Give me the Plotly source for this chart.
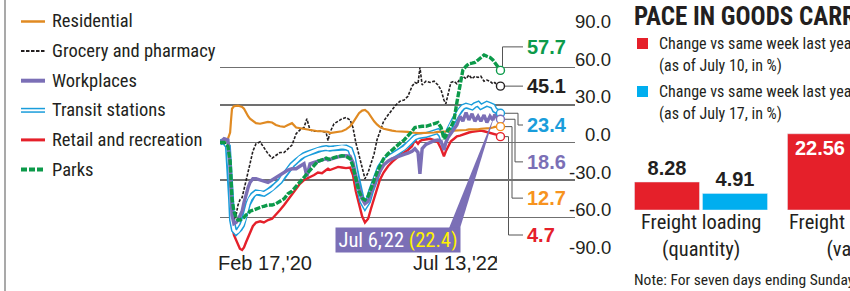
import plotly.graph_objects as go

W, H = 850, 291
def px(x): return x / W
def py(y): return 1 - y / H

# ---------------- DATA ----------------
dates = [
 "2020-02-17","2020-03-01","2020-03-13","2020-03-20","2020-03-23","2020-03-26","2020-04-01","2020-04-08","2020-04-14","2020-04-20",
 "2020-04-27","2020-05-03","2020-05-09","2020-05-16","2020-05-22","2020-05-31","2020-06-10","2020-06-23","2020-07-05","2020-07-18",
 "2020-07-31","2020-08-12","2020-08-25","2020-09-07","2020-09-19","2020-10-02","2020-10-15","2020-10-27","2020-11-09","2020-11-18",
 "2020-11-28","2020-12-11","2020-12-23","2021-01-05","2021-01-18","2021-01-24","2021-01-30","2021-02-12","2021-02-25","2021-03-09",
 "2021-03-22","2021-04-04","2021-04-13","2021-04-22","2021-05-02","2021-05-12","2021-05-21","2021-05-31","2021-06-09","2021-06-19",
 "2021-06-28","2021-07-07","2021-07-19","2021-08-02","2021-08-15","2021-08-27","2021-09-09","2021-09-22","2021-10-04","2021-10-17",
 "2021-10-26","2021-11-05","2021-11-11","2021-11-18","2021-11-30","2021-12-13","2021-12-26","2022-01-07","2022-01-17","2022-01-26",
 "2022-02-01","2022-02-08","2022-02-17","2022-02-27","2022-03-08","2022-03-18","2022-03-27","2022-04-06","2022-04-15","2022-04-25",
 "2022-05-04","2022-05-14","2022-05-23","2022-06-02","2022-06-11","2022-06-21","2022-06-30","2022-07-06","2022-07-16","2022-07-24",
]

residential = [
 0, 1, 3, 8, 18, 27, 29, 29.5, 29.5, 29,
 28.5, 27, 24, 21, 19, 17, 15.5, 15, 15.5, 16.5,
 16, 14, 13, 12.5, 14, 15.5, 12, 11.5, 10.5, 10,
 10, 9.5, 9, 9, 8.5, 8.5, 7.5, 8, 8.5, 9,
 10.5, 13, 16, 20, 23.5, 25.5, 26, 24, 20.5, 17,
 14.5, 12.5, 11, 10, 9.5, 9, 9, 8.5, 8.5, 8,
 7.5, 7.5, 7.5, 7.5, 7.5, 8, 8, 8.5, 8.5, 9,
 9, 9, 9, 9.5, 9.5, 9.5, 10, 10, 10.5, 10.5,
 10, 10.5, 11, 11, 11.5, 11.5, 12, 12.5, 12.5, 12.7,
]
grocery = [
 0, 1, -3, -20, -40, -55, -62, -58, -50, -46,
 -44, -38, -30, -24, -17, -7, -1, 0.5, -4, -9,
 -12.5, -10, -8, -8, -5, -2, 7, 10, 12, 19,
 10, 9, 9, 9, 8, 1.5, 8, 15, 17, 19,
 20, 18, 12, 0, -10, -21, -29, -24, -16, -9,
 2, 9, 17, 22, 26, 30, 33, 34, 37, 45,
 48, 47, 60, 46, 49, 48, 49, 46, 42, 34,
 31, 38, 48, 49, 47, 51, 53, 51, 54, 51,
 53, 52, 53, 49, 50, 49, 47, 48, 45.5, 45.1,
]
workplaces = [
 0, 3, 2, -20, -40, -58, -65, -64, -62, -59,
 -55, -48, -42, -36, -32, -29, -29, -30, -31, -32,
 -30, -28, -26, -24, -22, -21, -21, -19, -17, -27,
 -17, -16, -15, -14, -13, -14, -13.5, -12, -11.5, -11,
 -10.5, -11, -16, -27, -37, -45, -49, -47, -40, -33,
 -28, -23, -18, -15, -13, -12, -10.5, -9.5, -8.5, -7,
 -5, -8, -25, -5, -1.5, 0, 1.5, 2, 1, -6,
 0, 4, 7, 11, 14, 21, 17, 24, 18, 23,
 17, 21, 17, 22, 16, 21, 18, 22.4, 19, 18.6,
]
transit = [
 0, 1, -3, -25, -45, -62, -70, -72, -71, -69,
 -66, -62, -55, -49, -45, -42, -40, -40, -41, -39,
 -37, -34, -31, -26, -22, -18, -15, -12, -10, -9,
 -8, -6.5, -5.5, -5, -4.5, -5, -5, -4.5, -4, -3.5,
 -4, -5.5, -12, -24, -38, -47, -51, -47, -39, -31,
 -25, -20, -15.5, -12.5, -10.5, -8.5, -6.5, -4.5, -1.5, 1.5,
 4, 5, 5, 5.5, 6, 7, 7.5, 9, 6, -1,
 5, 9, 14, 18, 22, 26, 28.5, 29.5, 29, 28,
 30, 31, 28.5, 30, 31, 30, 29, 26, 24.5, 23.4,
]
retail = [
 0, 0, -5, -25, -45, -65, -74, -78, -82, -85,
 -86, -84, -80, -76, -72, -67, -64, -63, -64, -62,
 -61, -58, -54, -50, -46, -42, -37, -33, -30, -29,
 -27.5, -26, -24, -24.5, -22, -21, -22, -21, -19.5, -20,
 -20.5, -20, -26, -39, -50, -59, -64, -61, -53, -45,
 -37, -30, -24, -19, -15.5, -12.5, -10, -8, -6, -3,
 2, -1, 1, 2, 2.5, 3, 2, 0, -5, -11,
 -7, -3, 1, 3, 5, 5.5, 6.5, 7, 8, 8.5,
 9, 9.5, 9.5, 9, 8.5, 7.5, 7, 7, 6, 4.7,
]
parks = [
 0, 0, -3, -15, -30, -45, -55, -60, -62, -62,
 -61, -60, -58, -57, -55, -54, -53, -52, -51, -50,
 -50, -49, -47, -45, -41, -39, -35, -32, -28, -25,
 -22, -18, -15, -14, -12.5, -13, -13.5, -12, -11, -10.5,
 -11, -13, -19, -30, -39, -44.5, -46, -43, -36, -30,
 -24, -19, -13, -9, -6, -3, -0.5, 2, 5, 9,
 12, 12.5, 13, 13, 13, 14, 15, 16, 12, 3,
 5, 10, 12, 18, 32, 46, 58, 61, 63, 63.5,
 64, 66, 68, 70, 69, 68, 66, 64, 60.5, 57.7,
]

y_ticks = [90, 60, 30, 0, -30, -60, -90]
x_tick_dates = ["2020-02-17", "2022-07-13"]
x_tick_labels = ["Feb 17,'20", "Jul 13,'22"]
callout_date = "2022-07-06"

bar_categories = ["Freight loading<br>(quantity)", "Freight earnings<br>(value)"]
bar_jul10 = [8.28, 22.56]
bar_jul17 = [4.91, None]

# ---------------- STYLE ----------------
C_ORANGE = "#e08a22"; C_ORANGE_T = "#f7931e"
C_BLACK = "#231f20"
C_PURPLE = "#7b6fb6"
C_BLUE = "#1a9ddb"
C_RED = "#e5202a"
C_GREEN = "#0c9a4a"
C_BAR_BLUE = "#00aeef"
GRID = "#707070"
TXT = "#231f20"
XNARROW = "Noto Sans ExtraCondensed, Noto Sans Condensed, Roboto Condensed, Liberation Sans Narrow, Liberation Sans, sans-serif"
NARROW = "Noto Sans Condensed, Roboto Condensed, Open Sans Condensed, DejaVu Sans Condensed, Liberation Sans Narrow, Liberation Sans, sans-serif"
SANS = "Liberation Sans, Arial, sans-serif"

fig = go.Figure()

def line(y, color, width, dash=None, name=None):
    fig.add_trace(go.Scatter(x=dates, y=y, mode="lines", name=name, hoverinfo="skip",
                             line=dict(color=color, width=width, dash=dash, shape="linear"),
                             showlegend=False, xaxis="x", yaxis="y"))

line(retail, C_RED, 2.4, name="Retail and recreation")
line(transit, C_BLUE, 6, name="Transit stations")
line(transit, "white", 3)
line(grocery, C_BLACK, 1.6, dash="3px,1.5px", name="Grocery and pharmacy")
line(residential, C_ORANGE, 2.2, name="Residential")
line(workplaces, C_PURPLE, 3.4, name="Workplaces")
line(parks, C_GREEN, 3.4, dash="6px,1.5px", name="Parks")

# callout wedge (tip at Jul 6 workplaces value)
tip_val = workplaces[dates.index(callout_date)]
fig.add_trace(go.Scatter(x=["2022-02-11", "2022-03-18", callout_date],
                         y=[-68.5, -68.5, tip_val], mode="lines", fill="toself",
                         fillcolor=C_PURPLE, line=dict(width=0, color=C_PURPLE),
                         hoverinfo="skip", showlegend=False))

# end circles
ends = [parks, grocery, transit, workplaces, residential, retail]
end_colors = [C_GREEN, C_BLACK, C_BLUE, C_PURPLE, C_ORANGE_T, C_RED]
fig.add_trace(go.Scatter(x=[dates[-1]] * len(ends), y=[s[-1] for s in ends], mode="markers",
                         marker=dict(size=8, color="white", line=dict(color=end_colors, width=1.4)),
                         hoverinfo="skip", showlegend=False))

# bars
fig.add_trace(go.Bar(x=bar_categories, y=bar_jul10, marker_color=C_RED, xaxis="x2", yaxis="y2",
                     text=[f"{v:.2f}" for v in bar_jul10], textposition=["outside", "inside"],
                     insidetextanchor="end", constraintext="none", cliponaxis=False,
                     textfont=dict(family=SANS, size=20, color=[TXT, "white"], weight="bold"),
                     showlegend=False, hoverinfo="skip"))
fig.add_trace(go.Bar(x=bar_categories, y=bar_jul17, marker_color=C_BAR_BLUE, xaxis="x2", yaxis="y2",
                     text=[f"{v:.2f}" if v is not None else "" for v in bar_jul17], textposition="outside",
                     constraintext="none", cliponaxis=False,
                     textfont=dict(family=SANS, size=20, color=TXT, weight="bold"),
                     showlegend=False, hoverinfo="skip"))

ann = []
shapes = []

# y tick labels
for v in y_ticks:
    ann.append(dict(x=px(613), xref="paper", y=v, yref="y", xanchor="right", yanchor="middle",
                    yshift=8, text=f"{v:.1f}", showarrow=False,
                    font=dict(family=SANS, size=18.5, color=TXT)))
# x tick labels
ann.append(dict(x=x_tick_dates[0], xref="x", y=py(276), yref="paper", xanchor="left", xshift=-4,
                text=x_tick_labels[0], showarrow=False, font=dict(family=SANS, size=20, color=TXT)))
ann.append(dict(x=x_tick_dates[1], xref="x", y=py(276), yref="paper", xanchor="right", xshift=3,
                text=x_tick_labels[1], showarrow=False, font=dict(family=SANS, size=20, color=TXT)))

# end labels with connectors
label_y = [76.5, 45.1, 14, -15.5, -44.5, -74]
label_colors = [C_GREEN, C_BLACK, C_BLUE, C_PURPLE, C_ORANGE_T, C_RED]
elbow_x = [502, None, 518, 515, 512, 508.5]
for s, ly, col, ex in zip(ends, label_y, label_colors, elbow_x):
    v = s[-1]
    if ex is None:
        path = f"M {px(505)},{v} H {px(523)}"
    elif ex == 502:
        path = f"M {px(502.5)},{v} V {ly} H {px(523)}"
    else:
        path = f"M {px(505)},{v} H {px(ex)} V {ly} H {px(523)}"
    shapes.append(dict(type="path", path=path, xref="paper", yref="y", layer="between",
                       line=dict(color="#555555", width=1)))
    ann.append(dict(x=px(525), xref="paper", y=ly, yref="y", xanchor="left", yanchor="middle",
                    text=f"<b>{v}</b>", showarrow=False, font=dict(family=SANS, size=20, color=col)))

# callout box
ann.append(dict(x=px(397.5), y=py(240), xref="paper", yref="paper", xanchor="center", yanchor="middle",
                text=f"Jul 6,'22 <span style='color:#fff200'>({tip_val})</span>", showarrow=False,
                bgcolor=C_PURPLE, width=121, height=21, borderpad=1.5,
                font=dict(family=NARROW, size=20.5, color="white")))

# left legend
legend_items = ["Residential", "Grocery and pharmacy", "Workplaces", "Transit stations", "Retail and recreation", "Parks"]
for i, name in enumerate(legend_items):
    yy = 21.5 + i * 29.6
    x0, x1 = px(21), px(45)
    if name == "Residential":
        shapes.append(dict(type="line", x0=x0, x1=x1, y0=py(yy), y1=py(yy), xref="paper", yref="paper", line=dict(color=C_ORANGE, width=2.5)))
    elif name == "Grocery and pharmacy":
        shapes.append(dict(type="line", x0=x0, x1=x1, y0=py(yy), y1=py(yy), xref="paper", yref="paper", line=dict(color=C_BLACK, width=2, dash="3.5px,1.5px")))
    elif name == "Workplaces":
        shapes.append(dict(type="line", x0=x0, x1=x1, y0=py(yy), y1=py(yy), xref="paper", yref="paper", line=dict(color=C_PURPLE, width=4)))
    elif name == "Transit stations":
        shapes.append(dict(type="line", x0=x0, x1=x1, y0=py(yy), y1=py(yy), xref="paper", yref="paper", line=dict(color=C_BLUE, width=5)))
        shapes.append(dict(type="line", x0=x0, x1=x1, y0=py(yy), y1=py(yy), xref="paper", yref="paper", line=dict(color="white", width=2)))
    elif name == "Retail and recreation":
        shapes.append(dict(type="line", x0=x0, x1=x1, y0=py(yy), y1=py(yy), xref="paper", yref="paper", line=dict(color=C_RED, width=3)))
    else:
        shapes.append(dict(type="line", x0=x0, x1=x1, y0=py(yy), y1=py(yy), xref="paper", yref="paper", line=dict(color=C_GREEN, width=4, dash="6px,2px")))
    ann.append(dict(x=px(50), y=py(yy), xref="paper", yref="paper", xanchor="left", yanchor="middle",
                    text=name, showarrow=False, font=dict(family=XNARROW, size=18.5, color=TXT)))

# left border
shapes.append(dict(type="line", x0=px(5), x1=px(5), y0=0, y1=1, xref="paper", yref="paper",
                   line=dict(color="#8c8c8c", width=1.5)))

# right panel title & legend
ann.append(dict(x=px(632), y=py(16), xref="paper", yref="paper", xanchor="left", yanchor="middle",
                text="<b>PACE IN GOODS CARRIAGE</b>", showarrow=False,
                font=dict(family=XNARROW, size=25, color=TXT)))
for (sq_y, col, l1, l2) in [(43.5, C_RED, "Change vs same week last year", "(as of July 10, in %)"),
                            (91.5, C_BAR_BLUE, "Change vs same week last year", "(as of July 17, in %)")]:
    shapes.append(dict(type="rect", x0=px(637), x1=px(648), y0=py(sq_y - 5.5), y1=py(sq_y + 5.5),
                       xref="paper", yref="paper", fillcolor=col, line=dict(width=0)))
    ann.append(dict(x=px(657), y=py(sq_y), xref="paper", yref="paper", xanchor="left", yanchor="middle",
                    text=l1, showarrow=False, font=dict(family=XNARROW, size=16, color=TXT)))
    ann.append(dict(x=px(657), y=py(sq_y + 22), xref="paper", yref="paper", xanchor="left", yanchor="middle",
                    text=l2, showarrow=False, font=dict(family=XNARROW, size=16, color=TXT)))

# bar category labels
for cx, cat in zip([701, 854], bar_categories):
    ann.append(dict(x=px(cx), y=py(235), xref="paper", yref="paper", xanchor="center", yanchor="middle",
                    text=cat, showarrow=False, align="center",
                    font=dict(family=NARROW, size=20.5, color=TXT)))

ann.append(dict(x=px(632), y=py(280), xref="paper", yref="paper", xanchor="left", yanchor="middle",
                text="Note: For seven days ending Sunday", showarrow=False,
                font=dict(family=XNARROW, size=15.5, color=TXT)))
ann.append(dict(x=px(632), y=py(299), xref="paper", yref="paper", xanchor="left", yanchor="middle",
                text="Source: Indian Railways", showarrow=False,
                font=dict(family=XNARROW, size=15.5, color=TXT)))

fig.update_layout(
    width=W, height=H, margin=dict(l=0, r=0, t=0, b=0),
    paper_bgcolor="white", plot_bgcolor="rgba(0,0,0,0)",
    showlegend=False, barmode="group", bargap=0.111, bargroupgap=0.044,
    xaxis=dict(domain=[px(220), px(575)], type="date", range=["2020-02-17", "2023-03-17"],
               showgrid=False, zeroline=False, showline=False, tickvals=x_tick_dates,
               ticks="outside", ticklen=7, tickcolor=GRID, tickwidth=1, showticklabels=False,
               fixedrange=True),
    yaxis=dict(domain=[py(255), py(30)], range=[-90, 90], tickvals=y_ticks, showgrid=True,
               gridcolor=GRID, gridwidth=1.2, zeroline=False, showline=False, showticklabels=False,
               ticks="", fixedrange=True),
    xaxis2=dict(domain=[px(624.5), 1], range=[-0.5, 0.974], type="category", visible=False,
                anchor="y2"),
    yaxis2=dict(domain=[py(210), py(130)], range=[0, 80 / 3.38], visible=False, anchor="x2"),
    annotations=ann, shapes=shapes,
)

fig.write_html("out.html", config={"displayModeBar": False, "staticPlot": True},
               post_script="document.body.style.margin='0px';document.body.style.overflow='hidden';")
